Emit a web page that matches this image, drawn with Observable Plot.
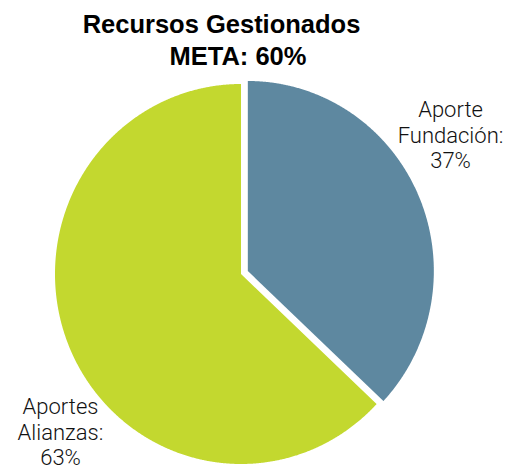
<!DOCTYPE html>
<html>
<head>
<meta charset="utf-8">
<script src="https://cdn.jsdelivr.net/npm/d3@7"></script>
<script src="https://cdn.jsdelivr.net/npm/@observablehq/plot@0.6"></script>
<style>
  html, body { margin: 0; padding: 0; background: #fff; }
  #wrap { width: 517px; height: 469px; position: relative; overflow: hidden; }
  #title { position: relative; height: 64px; font-family: "Liberation Sans", Arial, Helvetica, sans-serif; font-weight: bold; font-size: 25.5px; line-height: 26px; color: #000; }
  #title div { position: absolute; left: 0; text-align: center; white-space: nowrap; }
  #t1 { top: 11px; width: 443px; }
  #t2 { top: 43px; width: 476px; }
  #chart svg { display: block; }
</style>
</head>
<body>
<div id="wrap">
  <div id="title"><div id="t1">Recursos Gestionados</div><div id="t2">META: 60%</div></div>
  <div id="chart"></div>
</div>
<script>
// ---- data ----
const names = ["Aporte\nFundación", "Aportes\nAlianzas"];
const values = [37, 63];
const colors = ["#5e88a0", "#c3d82f"];
const explode = [0.04, 0]; // radial offset of each slice (unit radius)

// ---- geometry from data (unit circle, through d3.pie) ----
const arcs = d3.pie().sort(null).value(d => d)(values);
const slices = arcs.map((a, i) => {
  const mid = (a.startAngle + a.endAngle) / 2;
  const ox = Math.sin(mid) * explode[i], oy = Math.cos(mid) * explode[i];
  const pts = [{x: ox, y: oy}];
  const n = Math.max(2, Math.ceil((a.endAngle - a.startAngle) / (Math.PI / 720)));
  for (let k = 0; k <= n; k++) {
    const t = a.startAngle + (a.endAngle - a.startAngle) * k / n;
    pts.push({x: ox + Math.sin(t), y: oy + Math.cos(t)});
  }
  pts.push({x: ox, y: oy});
  return {name: names[i], value: values[i], color: colors[i], pts};
});

const labels = slices.map(s => ({text: s.name + ":\n" + s.value + "%"}));

const W = 517, H = 405;
const cx = 240.5, cy = 209.5, rx = 186, ry = 190;

const chart = Plot.plot({
  width: W,
  height: H,
  margin: 0,
  x: {domain: [-cx / rx, (W - cx) / rx], axis: null},
  y: {domain: [-(H - cy) / ry, cy / ry], axis: null},
  marks: [
    ...slices.map(s => Plot.line(s.pts, {x: "x", y: "y", fill: s.color, stroke: "none", curve: "linear"})),
    Plot.text([labels[0]], {
      text: "text", frameAnchor: "top-right", dx: -67, dy: 70,
      textAnchor: "middle", lineAnchor: "middle", lineHeight: 1.14,
      fontSize: 22, fill: "#111"
    }),
    Plot.text([labels[1]], {
      text: "text", frameAnchor: "bottom-left", dx: 60, dy: -38,
      textAnchor: "middle", lineAnchor: "middle", lineHeight: 1.14,
      fontSize: 22, fill: "#111"
    })
  ],
  style: {fontFamily: "Roboto, 'Liberation Sans', Arial, sans-serif", fontWeight: 300, background: "transparent", overflow: "visible"}
});
document.getElementById("chart").appendChild(chart);
</script>
</body>
</html>
